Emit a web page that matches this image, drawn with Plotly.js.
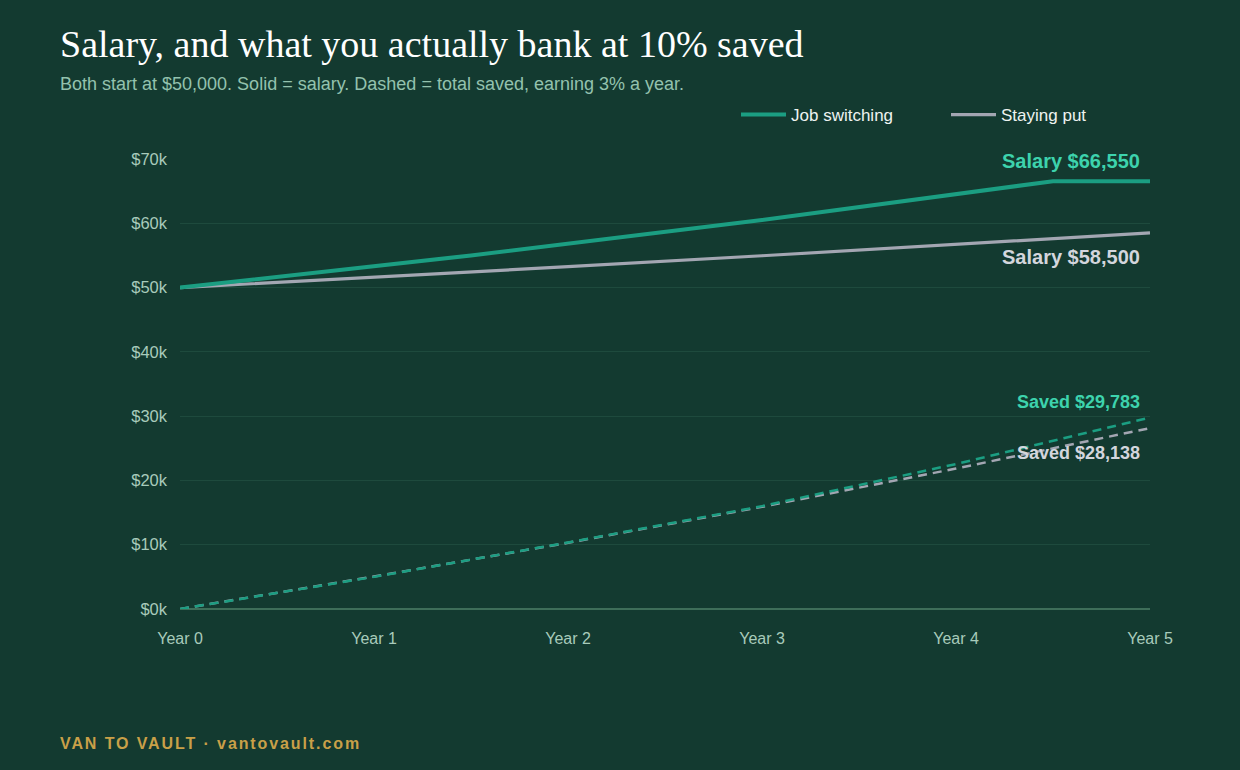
<!DOCTYPE html>
<html>
<head>
<meta charset="utf-8">
<script src="https://cdn.plot.ly/plotly-3.0.1.min.js"></script>
<style>
  html, body { margin: 0; padding: 0; background: #133a30; }
  #chart { width: 1240px; height: 770px; }
</style>
</head>
<body>
<div id="chart"></div>
<script>
// Salary paths (years since start, dollars)
const jobYears = [0, 1.5, 3, 4.5, 5];
const jobSalary = [50000, 55000, 60500, 66550, 66550];
const stayYears = [0, 1, 2, 3, 4, 5];
const staySalary = [50000, 51600, 53250, 54950, 56700, 58500];

// Running total saved at 10% of salary, growing at 3% a year
const savedYears = [0, 1, 2, 3, 4, 5];
const jobSaved = [0, 5000, 10350, 16000, 22550, 29783];
const staySaved = [0, 5050, 10300, 15900, 21850, 28138];

// Axis ticks
const xTickVals = [0, 1, 2, 3, 4, 5];
const xTickText = ["Year 0", "Year 1", "Year 2", "Year 3", "Year 4", "Year 5"];
const yTickVals = [0, 10000, 20000, 30000, 40000, 50000, 60000, 70000];
const yTickText = ["$0k", "$10k", "$20k", "$30k", "$40k", "$50k", "$60k", "$70k"];

const BG = "#133a30";
const TEAL = "#1b9e82";
const TEAL_LABEL = "#3dd3ad";
const GREY = "#a3a6b2";
const GREY_LABEL = "#d3d6dd";
const SANS = "'Liberation Sans', Arial, Helvetica, sans-serif";

// plot area in pixels, used to place page-level text in paper coordinates
const PL = 180, PR = 1150, PT = 159, PB = 609;
const px = v => (v - PL) / (PR - PL);
const py = v => (PB - v) / (PB - PT);

const fmt = v => "$" + v.toLocaleString("en-US");
const last = a => a[a.length - 1];

const traces = [
  { x: stayYears, y: staySalary, name: "Staying put", mode: "lines",
    line: { color: GREY, width: 3.2 }, legendrank: 2, hoverinfo: "skip" },
  { x: savedYears, y: staySaved, name: "Staying put saved", mode: "lines", showlegend: false,
    line: { color: GREY, width: 2.5, dash: "9px,6px" }, hoverinfo: "skip" },
  { x: jobYears, y: jobSalary, name: "Job switching", mode: "lines",
    line: { color: TEAL, width: 4 }, legendrank: 1, hoverinfo: "skip" },
  { x: savedYears, y: jobSaved, name: "Job switching saved", mode: "lines", showlegend: false,
    line: { color: TEAL, width: 2.5, dash: "9px,6px" }, hoverinfo: "skip" }
];

const endLabel = (text, y, color, size, shift) => ({
  x: 5, y: y, xref: "x", yref: "y", text: "<b>" + text + "</b>",
  showarrow: false, xanchor: "right", yanchor: "middle", xshift: -8, yshift: shift,
  font: { family: SANS, size: size, color: color }
});

const layout = {
  width: 1240, height: 770,
  paper_bgcolor: BG, plot_bgcolor: BG,
  margin: { l: PL, r: 1240 - PR, t: PT, b: 770 - PB },
  font: { family: SANS, color: "#a8cbbb" },
  title: {
    text: "Salary, and what you actually bank at 10% saved",
    font: { family: "'Liberation Serif', 'DejaVu Serif', Georgia, serif", size: 38, color: "#ffffff" },
    xref: "container", yref: "container", x: 60 / 1240, xanchor: "left",
    y: 1 - 44 / 770, yanchor: "middle"
  },
  showlegend: true,
  legend: {
    orientation: "h", x: px(736), xanchor: "left",
    y: py(115), yanchor: "middle",
    font: { family: SANS, size: 17, color: "#eef3f0" },
    bgcolor: "rgba(0,0,0,0)", itemwidth: 45,
    entrywidth: 150, entrywidthmode: "pixels"
  },
  xaxis: {
    range: [0, 5], tickvals: xTickVals, ticktext: xTickText,
    showgrid: false, zeroline: false, showline: false, ticks: "",
    ticklabelstandoff: 18,
    tickfont: { family: SANS, size: 16, color: "#a8cbbb" }, fixedrange: true
  },
  yaxis: {
    range: [0, 70000], tickvals: yTickVals, ticktext: yTickText,
    showgrid: true, gridcolor: "#1e4a3d", gridwidth: 1,
    zeroline: true, zerolinecolor: "#3e6e59", zerolinewidth: 2,
    showline: false, ticks: "", ticklabelstandoff: 12,
    tickfont: { family: SANS, size: 16.5, color: "#a8cbbb" }, fixedrange: true
  },
  annotations: [
    { xref: "paper", yref: "paper", x: px(58), y: py(84),
      xanchor: "left", yanchor: "middle", align: "left", showarrow: false,
      text: "Both start at $50,000. Solid = salary. Dashed = total saved, earning 3% a year.",
      font: { family: SANS, size: 18, color: "#93c2ae" } },
    { xref: "paper", yref: "paper", x: px(58), y: py(743),
      xanchor: "left", yanchor: "middle", align: "left", showarrow: false,
      text: "<b>VAN TO VAULT · vantovault.com</b>",
      font: { family: SANS, size: 16, color: "#c9a048" } },
    endLabel("Salary " + fmt(last(jobSalary)), last(jobSalary), TEAL_LABEL, 20, 20),
    endLabel("Salary " + fmt(last(staySalary)), last(staySalary), GREY_LABEL, 20, -24),
    endLabel("Saved " + fmt(last(jobSaved)), last(jobSaved), TEAL_LABEL, 18, 16),
    endLabel("Saved " + fmt(last(staySaved)), last(staySaved), GREY_LABEL, 18, -25)
  ]
};

Plotly.newPlot("chart", traces, layout, { displayModeBar: false, staticPlot: true }).then(gd => {
  // widen the brand line in the footer
  gd.querySelectorAll(".annotation-text").forEach(t => {
    if (t.textContent.indexOf("VAN TO VAULT") === 0) t.style.letterSpacing = "1.9px";
  });
});
</script>
</body>
</html>
